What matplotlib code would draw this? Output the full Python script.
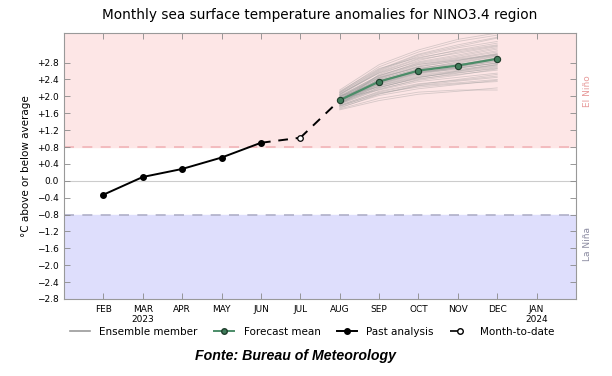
import matplotlib
matplotlib.use("Agg")
import matplotlib.pyplot as plt
from matplotlib.lines import Line2D

# month positions: 0 = JAN 2023 ... 13 = FEB 2024
month_labels = ["FEB", "MAR\n2023", "APR", "MAY", "JUN", "JUL", "AUG",
                "SEP", "OCT", "NOV", "DEC", "JAN\n2024"]
month_pos = list(range(1, 13))

past_x = [1, 2, 3, 4, 5]
past_y = [-0.33, 0.09, 0.28, 0.55, 0.90]

mtd_x = 6
mtd_y = 1.02

forecast_x = [7, 8, 9, 10, 11]
forecast_mean = [1.91, 2.35, 2.61, 2.73, 2.89]

# ensemble members, AUG..DEC
ensemble = [
    [1.88, 2.30, 2.55, 2.70, 2.85],
    [1.80, 2.42, 2.70, 2.85, 3.02],
    [1.95, 2.15, 2.35, 2.45, 2.55],
    [2.05, 2.60, 2.95, 3.15, 3.30],
    [1.72, 2.05, 2.25, 2.32, 2.40],
    [1.98, 2.48, 2.80, 2.95, 3.12],
    [1.85, 2.25, 2.48, 2.60, 2.72],
    [2.10, 2.70, 3.05, 3.30, 3.45],
    [1.90, 2.35, 2.62, 2.78, 2.95],
    [1.78, 2.12, 2.30, 2.38, 2.48],
    [1.93, 2.40, 2.65, 2.72, 2.82],
    [1.85, 2.52, 2.85, 3.05, 3.20],
    [2.02, 2.22, 2.42, 2.52, 2.62],
    [1.96, 2.38, 2.58, 2.68, 2.78],
    [1.70, 1.95, 2.10, 2.15, 2.15],
    [2.15, 2.75, 3.10, 3.35, 3.50],
    [1.87, 2.28, 2.52, 2.66, 2.80],
    [1.99, 2.46, 2.75, 2.90, 3.05],
    [1.76, 2.08, 2.22, 2.30, 2.35],
    [1.91, 2.33, 2.60, 2.75, 2.92],
    [2.06, 2.55, 2.82, 2.98, 3.15],
    [1.82, 2.18, 2.38, 2.50, 2.65],
    [1.94, 2.44, 2.72, 2.88, 3.00],
    [1.89, 2.31, 2.56, 2.64, 2.74],
    [2.00, 2.50, 2.78, 2.92, 3.08],
    [1.74, 2.02, 2.18, 2.28, 2.38],
    [1.92, 2.36, 2.64, 2.82, 2.98],
    [2.08, 2.62, 2.98, 3.18, 3.38],
    [1.84, 2.20, 2.45, 2.58, 2.70],
    [1.97, 2.45, 2.68, 2.76, 2.86],
    [1.81, 2.16, 2.40, 2.55, 2.68],
    [2.03, 2.56, 2.88, 3.02, 3.18],
    [1.86, 2.26, 2.50, 2.62, 2.76],
    [1.79, 2.10, 2.28, 2.40, 2.52],
    [2.12, 2.66, 2.92, 3.08, 3.22],
    [1.90, 2.34, 2.58, 2.70, 2.88],
    [1.95, 2.40, 2.66, 2.80, 2.96],
    [1.68, 1.90, 2.05, 2.12, 2.20],
    [2.01, 2.49, 2.76, 2.86, 2.98],
    [1.87, 2.29, 2.54, 2.68, 2.84],
    [1.93, 2.37, 2.62, 2.74, 2.90],
    [1.77, 2.06, 2.26, 2.36, 2.45],
    [2.04, 2.58, 2.90, 3.10, 3.26],
    [1.85, 2.24, 2.46, 2.56, 2.66],
    [1.98, 2.43, 2.70, 2.84, 3.00],
    [1.83, 2.21, 2.44, 2.60, 2.75],
    [2.09, 2.64, 3.00, 3.22, 3.40],
    [1.89, 2.32, 2.57, 2.67, 2.79],
]

y_ticks = [-2.8, -2.4, -2.0, -1.6, -1.2, -0.8, -0.4, 0.0,
           0.4, 0.8, 1.2, 1.6, 2.0, 2.4, 2.8]
threshold = 0.8

fig = plt.figure(figsize=(6.12, 3.76), dpi=100)
ax = fig.add_axes([0.1046, 0.2048, 0.8366, 0.7074])

ax.set_xlim(0, 13)
ax.set_ylim(-2.8, 3.5)

# El Nino / La Nina shading
ax.axhspan(threshold, 3.5, color="#fde6e6", zorder=0)
ax.axhspan(-2.8, -threshold, color="#dedefc", zorder=0)
ax.axhline(threshold, color="#f2b4b8", ls=(0, (6, 5)), lw=1.2, zorder=1)
ax.axhline(-threshold, color="#b0b0c8", ls=(0, (6, 5)), lw=1.2, zorder=1)
ax.axhline(0, color="#cccccc", lw=0.8, zorder=1)

for member in ensemble:
    ax.plot(forecast_x, member, color="#999999", lw=0.6, alpha=0.4, zorder=2)

ax.plot(forecast_x, forecast_mean, color="#4b8c68", lw=1.6, zorder=4,
        marker="o", ms=4.5, mfc="#3f7c5a", mec="#1e3d2c", mew=0.8)

ax.plot(past_x, past_y, color="black", lw=1.4, marker="o", ms=4, zorder=4)
ax.plot([past_x[-1], mtd_x], [past_y[-1], mtd_y], color="black", lw=1.4,
        ls=(0, (5, 4)), zorder=4)
ax.plot([mtd_x, forecast_x[0]], [mtd_y, forecast_mean[0]], color="black",
        lw=1.4, ls=(0, (5, 4)), zorder=3)
ax.plot(mtd_x, mtd_y, marker="o", ms=4, mfc="white", mec="black", mew=0.9,
        zorder=5)

ax.set_xticks(month_pos)
ax.set_xticklabels(month_labels)
ax.set_yticks(y_ticks)
ax.set_yticklabels(["0.0" if v == 0 else ("+%.1f" % v if v > 0 else "\u2212%.1f" % -v)
                    for v in y_ticks])
ax.tick_params(direction="in", length=4, width=0.6, color="#888888",
               labelsize=6.5, top=True, right=True, pad=4)
for spine in ax.spines.values():
    spine.set_color("#999999")
    spine.set_linewidth(0.8)

ax.set_ylabel("\u00b0C above or below average", fontsize=7.5, labelpad=4)
ax.set_title("Monthly sea surface temperature anomalies for NINO3.4 region",
             fontsize=9.8, pad=10)

ax.text(1.022, 0.78, "El Ni\u00f1o", transform=ax.transAxes, rotation=90,
        va="center", ha="center", fontsize=6.5, color="#e79a9a")
ax.text(1.022, 0.205, "La Ni\u00f1a", transform=ax.transAxes, rotation=90,
        va="center", ha="center", fontsize=6.5, color="#8a8aa0")

handles = [
    Line2D([], [], color="#9a9a9a", lw=1.2),
    Line2D([], [], color="#4b8c68", lw=1.4, marker="o", ms=4,
           mfc="#3f7c5a", mec="#1e3d2c"),
    Line2D([], [], color="black", lw=1.4, marker="o", ms=4),
    Line2D([], [], color="black", lw=1.2, ls=(0, (5, 20)), marker="o", ms=4,
           mfc="white", mec="black"),
]
labels = ["Ensemble member", "Forecast mean", "Past analysis", "Month-to-date"]
fig.legend(handles, labels, loc="center", bbox_to_anchor=(0.51, 0.117),
           ncol=4, frameon=False, fontsize=7.5, handlelength=1.9,
           columnspacing=1.6, handletextpad=0.9)

fig.text(0.483, 0.053, "Fonte: Bureau of Meteorology", ha="center",
         va="center", fontsize=10.2, fontweight="bold", fontstyle="italic",
         family="Liberation Sans")

fig.savefig("out.png", dpi=100)
